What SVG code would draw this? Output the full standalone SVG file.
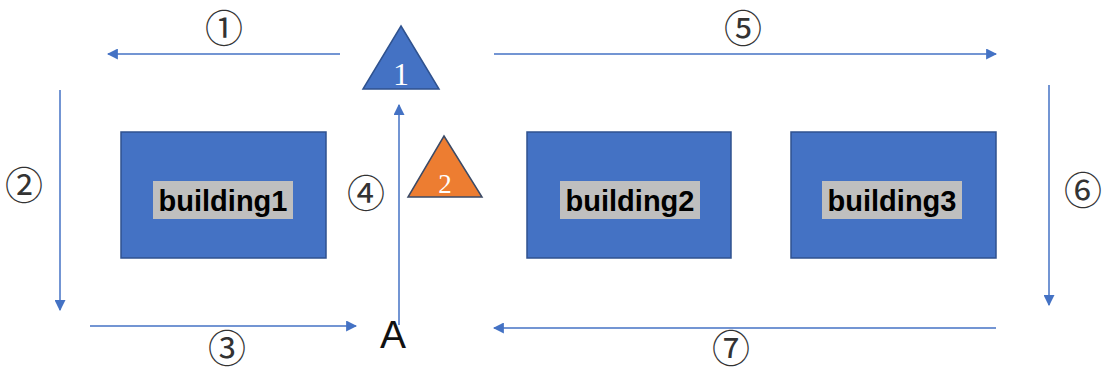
<svg xmlns="http://www.w3.org/2000/svg" width="1105" height="372" viewBox="0 0 1105 372">
<style>
.bld{fill:#4472C4;stroke:#2F528F;stroke-width:1.5}
.lblbg{fill:#BFBFBF}
.lbl{font-family:"Liberation Sans",Arial,sans-serif;font-weight:bold;font-size:29px;fill:#000;text-anchor:middle}
.num{font-family:"Noto Sans CJK SC","DejaVu Sans",sans-serif;font-size:38px;fill:#333;text-anchor:middle}
.tri{font-family:"Liberation Serif",serif;fill:#fff;text-anchor:middle}
.con{stroke:#4472C4;stroke-width:1.5;fill:none;marker-end:url(#ah)}
</style>
<defs>
<marker id="ah" viewBox="0 0 10 10" refX="9" refY="5" markerWidth="11" markerHeight="11" markerUnits="userSpaceOnUse" orient="auto">
<path d="M0,0 L10,5 L0,10 Z" fill="#4472C4"/>
</marker>
</defs>
<rect width="1105" height="372" fill="#fff"/>
<g id="connectors">
<line class="con" x1="340" y1="54" x2="108" y2="54"/>
<line class="con" x1="494" y1="54" x2="996" y2="54"/>
<line class="con" x1="60" y1="90" x2="60" y2="310"/>
<line class="con" x1="90" y1="326" x2="356" y2="326"/>
<line class="con" x1="399" y1="325" x2="399" y2="105"/>
<line class="con" x1="1049" y1="85" x2="1049" y2="305"/>
<line class="con" x1="996" y1="328" x2="494" y2="328"/>
</g>
<g id="labels">
<text class="num" x="224" y="42">①</text>
<text class="num" x="743" y="42">⑤</text>
<text class="num" x="24" y="199">②</text>
<text class="num" x="227" y="362" font-size="33">③</text>
<text class="num" x="366" y="207">④</text>
<text class="num" x="1083" y="204">⑥</text>
<text class="num" x="731" y="362" font-size="33">⑦</text>
</g>
<g id="A"><text x="393" y="348" font-family="'Liberation Sans',Arial,sans-serif" font-size="39" fill="#111" text-anchor="middle">A</text></g>
<g id="triangle1">
<polygon points="401,26 439,89 363,89" fill="#4472C4" stroke="#2F528F" stroke-width="1.5"/>
<text class="tri" x="401" y="85" font-size="32">1</text>
</g>
<g id="triangle2">
<polygon points="444,136 482,197 408,197" fill="#ED7D31" stroke="#3B4A66" stroke-width="1.5"/>
<text class="tri" x="445" y="193" font-size="27">2</text>
</g>
<g id="building1">
<rect class="bld" x="121" y="132" width="205" height="126"/>
<rect class="lblbg" x="153" y="181" width="140" height="38"/>
<text class="lbl" x="223" y="211">building1</text>
</g>
<g id="building2">
<rect class="bld" x="527" y="132" width="204" height="126"/>
<rect class="lblbg" x="560" y="181" width="140" height="38"/>
<text class="lbl" x="630" y="211">building2</text>
</g>
<g id="building3">
<rect class="bld" x="791" y="132" width="205" height="126"/>
<rect class="lblbg" x="822" y="181" width="140" height="38"/>
<text class="lbl" x="892" y="211">building3</text>
</g>
</svg>
